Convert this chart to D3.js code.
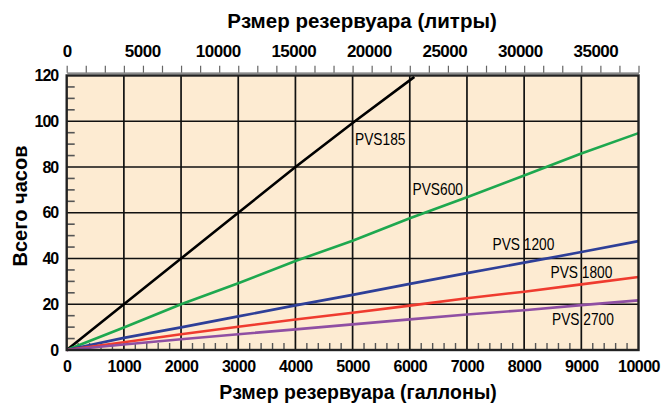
<!DOCTYPE html>
<html>
<head>
<meta charset="utf-8">
<script src="https://cdn.jsdelivr.net/npm/d3@7"></script>
<style>
  html, body { margin: 0; padding: 0; background: #fff; }
  svg { display: block; }
  text { font-family: "Liberation Sans", Arial, Helvetica, sans-serif; fill: #000; }
</style>
</head>
<body>
<svg id="chart" width="664" height="404"></svg>
<script>
// ---- data ----
const gallons = [0, 1000, 2000, 3000, 4000, 5000, 6000, 7000, 8000, 9000, 10000];
const pvs185Gallons = [0, 1000, 2000, 3000, 4000, 5040, 6080];
const pvs185 = [0, 20, 40, 60, 80, 100, 119.4];
const pvs600 = [0, 9.8, 20, 29.2, 38.9, 47.8, 57.6, 66.8, 76.3, 85.9, 94.8];
const pvs1200 = [0, 5.3, 9.9, 14.7, 19.5, 24.1, 28.9, 33.6, 38.2, 42.8, 47.6];
const pvs1800 = [0, 3.4, 6.9, 10.2, 13.3, 16.3, 19.4, 22.6, 25.5, 28.7, 31.9];
const pvs2700 = [0, 2.4, 4.7, 6.9, 9.0, 11.2, 13.4, 15.5, 17.4, 19.6, 21.7];
const seriesNames = ["PVS185", "PVS600", "PVS 1200", "PVS 1800", "PVS 2700"];
const hourTicks = [0, 20, 40, 60, 80, 100, 120];
const gallonTicks = [0, 1000, 2000, 3000, 4000, 5000, 6000, 7000, 8000, 9000, 10000];
const literTicks = [0, 5000, 10000, 15000, 20000, 25000, 30000, 35000];
const litersPerGallon = 3.78541;
const titleTop = "Рзмер резервуара (литры)";
const titleBottom = "Рзмер резервуара (галлоны)";
const titleLeft = "Всего часов";

// ---- layout ----
const svg = d3.select("#chart");
const L = 66.7, R = 638.5, T = 75.5, B = 350;
const x = d3.scaleLinear().domain([0, 10000]).range([L, R]);
const xLit = d3.scaleLinear().domain([0, 10000 * litersPerGallon]).range([L, R]);
const y = d3.scaleLinear().domain([0, 120]).range([B, T]);
const fmt = d3.format("d");

// background
svg.append("rect").attr("x", L).attr("y", T).attr("width", R - L).attr("height", B - T)
  .attr("fill", "#fdebd2");

// minor ticks left (every 5 hours)
const minorH = d3.range(5, 120, 5).filter(v => v % 20 !== 0);
svg.append("g").selectAll("line").data(minorH).join("line")
  .attr("x1", L).attr("x2", L + 8)
  .attr("y1", d => y(d)).attr("y2", d => y(d))
  .attr("stroke", "#555").attr("stroke-width", 1.6);

// minor ticks bottom (every 200 gallons)
const minorG = d3.range(200, 10000, 200).filter(v => v % 1000 !== 0);
svg.append("g").selectAll("line").data(minorG).join("line")
  .attr("x1", d => x(d)).attr("x2", d => x(d))
  .attr("y1", B).attr("y2", B - 7)
  .attr("stroke", "#555").attr("stroke-width", 1.4);

// grid
svg.append("g").selectAll("line").data(gallonTicks.slice(1, -1)).join("line")
  .attr("x1", d => x(d)).attr("x2", d => x(d)).attr("y1", T).attr("y2", B)
  .attr("stroke", "#111").attr("stroke-width", 1.7);
svg.append("g").selectAll("line").data(hourTicks.slice(1, -1)).join("line")
  .attr("x1", L).attr("x2", R).attr("y1", d => y(d)).attr("y2", d => y(d))
  .attr("stroke", "#111").attr("stroke-width", 1.7);

// series
const line = d3.line().x(d => x(d[0])).y(d => y(d[1]));
const series = [
  { pts: pvs185Gallons.map((g, i) => [g, pvs185[i]]), color: "#000000" },
  { pts: gallons.map((g, i) => [g, pvs600[i]]), color: "#1ea84f" },
  { pts: gallons.map((g, i) => [g, pvs1200[i]]), color: "#2e3f98" },
  { pts: gallons.map((g, i) => [g, pvs1800[i]]), color: "#ef3b2f" },
  { pts: gallons.map((g, i) => [g, pvs2700[i]]), color: "#8f4fa3" }
];
svg.append("g").selectAll("path").data(series).join("path")
  .attr("d", d => line(d.pts)).attr("fill", "none")
  .attr("stroke", d => d.color).attr("stroke-width", 2.6);

// plot border
svg.append("rect").attr("x", L).attr("y", T).attr("width", R - L).attr("height", B - T)
  .attr("fill", "none").attr("stroke", "#222").attr("stroke-width", 2.4);

// series labels (condensed)
const labelPos = [[355, 145], [412.5, 195], [492.5, 250], [550.5, 277.5], [552, 325]];
svg.append("g").selectAll("text").data(seriesNames).join("text")
  .attr("transform", (d, i) => `translate(${labelPos[i][0]},${labelPos[i][1]}) scale(0.86,1)`)
  .style("font-size", "16px")
  .text(d => d);

// left axis
const gl = svg.append("g").attr("transform", `translate(${L},0)`)
  .call(d3.axisLeft(y).tickValues(hourTicks).tickFormat(fmt).tickSize(0).tickPadding(8.5));
gl.select(".domain").remove();
gl.selectAll("text").style("font-size", "16px").style("font-weight", "bold")
  .style("letter-spacing", "-1px").attr("fill", "#000")
  .style("font-family", '"Liberation Sans", Arial, sans-serif');

// bottom axis
const gb = svg.append("g").attr("transform", `translate(0,${B})`)
  .call(d3.axisBottom(x).tickValues(gallonTicks).tickFormat(fmt).tickSize(0).tickPadding(10.5));
gb.select(".domain").remove();
gb.selectAll("text").style("font-size", "16px").style("font-weight", "bold")
  .style("letter-spacing", "-0.5px").attr("fill", "#000")
  .style("font-family", '"Liberation Sans", Arial, sans-serif');

// top axis: line with ticks (every 1/3 of 1000 gallons)
const topY = 72.7;
const topTicks = d3.range(0, 31).map(i => i * 1000 / 3);
const gt = svg.append("g").attr("transform", `translate(0,${topY})`)
  .call(d3.axisTop(x).tickValues(topTicks).tickFormat("").tickSize(7).tickSizeOuter(0));
gt.select(".domain").attr("stroke", "#666").attr("stroke-width", 1.2);
gt.selectAll(".tick line").attr("stroke", "#666").attr("stroke-width", 1.2);

// top axis labels in liters
const gtl = svg.append("g").attr("transform", `translate(0,${topY})`)
  .call(d3.axisTop(xLit).tickValues(literTicks).tickFormat(fmt).tickSize(0).tickPadding(16));
gtl.select(".domain").remove();
gtl.selectAll("text").style("font-size", "17px").style("font-weight", "bold")
  .style("letter-spacing", "-0.5px").attr("fill", "#000")
  .style("font-family", '"Liberation Sans", Arial, sans-serif');

// titles
svg.append("text").attr("x", 362).attr("y", 28.3).attr("text-anchor", "middle")
  .style("font-size", "20.5px").style("font-weight", "bold").text(titleTop);
svg.append("text").attr("x", 358).attr("y", 399).attr("text-anchor", "middle")
  .style("font-size", "19.5px").style("font-weight", "bold").text(titleBottom);
svg.append("text").attr("transform", "translate(26.5,206) rotate(-90)").attr("text-anchor", "middle")
  .style("font-size", "20px").style("font-weight", "bold").text(titleLeft);
</script>
</body>
</html>
